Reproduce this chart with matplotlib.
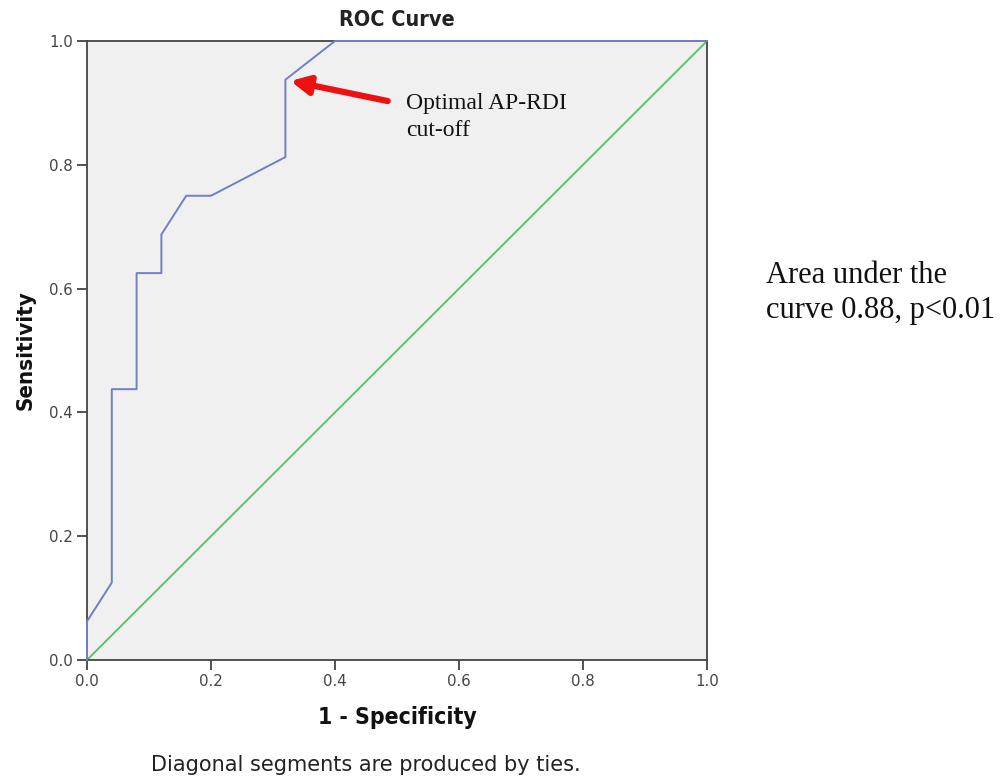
import matplotlib
matplotlib.use("Agg")
import matplotlib.pyplot as plt
import matplotlib.patheffects as pe

# ROC operating points (1 - specificity, sensitivity)
fpr = [0.0, 0.0, 0.04, 0.04, 0.08, 0.08, 0.12, 0.12, 0.16, 0.20, 0.32, 0.32, 0.40, 1.0]
tpr = [0.0, 0.0625, 0.125, 0.4375, 0.4375, 0.625, 0.625, 0.6875, 0.75, 0.75, 0.8125, 0.9375, 1.0, 1.0]

ref_line = [0.0, 1.0]
ticks = [0.0, 0.2, 0.4, 0.6, 0.8, 1.0]
tick_labels = ["0.0", "0.2", "0.4", "0.6", "0.8", "1.0"]

cutoff_point = (0.32, 0.9375)

label_font = ["DejaVu Sans", "Liberation Sans"]
serif_font = ["Liberation Serif", "DejaVu Serif"]

fig = plt.figure(figsize=(10.01, 7.8), dpi=100)
ax = fig.add_axes([87 / 1001, 1 - 660 / 780, 620 / 1001, 619 / 780])
ax.set_facecolor("#f0f0f0")

ax.plot(ref_line, ref_line, color="#5cc46c", lw=1.4, zorder=2)
ax.plot(fpr, tpr, color="#6f80c4", lw=1.4, zorder=3, clip_on=False)

ax.set_xlim(0, 1)
ax.set_ylim(0, 1)
ax.set_xticks(ticks)
ax.set_xticklabels(tick_labels)
ax.set_yticks(ticks)
ax.set_yticklabels(tick_labels)
ax.tick_params(direction="out", length=7, width=1.2, color="#333333",
               labelsize=10.8, labelcolor="#444444", pad=3)
for sp in ax.spines.values():
    sp.set_color("#444444")
    sp.set_linewidth(1.3)

ax.set_title("ROC Curve", fontsize=15.5, fontweight="bold", family=label_font,
             fontstretch="condensed", color="#222222", pad=11)
ax.set_xlabel("1 - Specificity", fontsize=16.5, fontweight="bold",
              family=label_font, fontstretch="condensed", color="#111111", labelpad=12)
ax.set_ylabel("Sensitivity", fontsize=16, fontweight="bold",
              family=label_font, fontstretch="condensed", color="#111111", labelpad=10)

fig.text(366 / 1001, 1 - 765 / 780, "Diagonal segments are produced by ties.",
         ha="center", va="center", fontsize=15, family=label_font,
         color="#222222")

# Arrow pointing to the chosen cut-off
ax.annotate("", xy=(cutoff_point[0] + 0.008, cutoff_point[1] - 0.002),
            xytext=(0.485, 0.903),
            arrowprops=dict(arrowstyle="-|>,head_length=1.1,head_width=0.55",
                            color="#ee1111", lw=4.5, shrinkA=0, shrinkB=0,
                            path_effects=[pe.SimplePatchShadow(offset=(1.5, -1.5),
                                                               alpha=0.35),
                                          pe.Normal()]),
            zorder=5)
ax.text(0.515, 0.877, "Optimal AP-RDI\ncut-off", fontsize=17, family=serif_font,
        color="#111111", va="center", ha="left", linespacing=1.4)

fig.text(766 / 1001, 1 - 293 / 780, "Area under the\ncurve 0.88, p<0.01",
         fontsize=22, family=serif_font, color="#111111", va="center", ha="left",
         linespacing=1.3)

fig.savefig("out.png", dpi=100)
